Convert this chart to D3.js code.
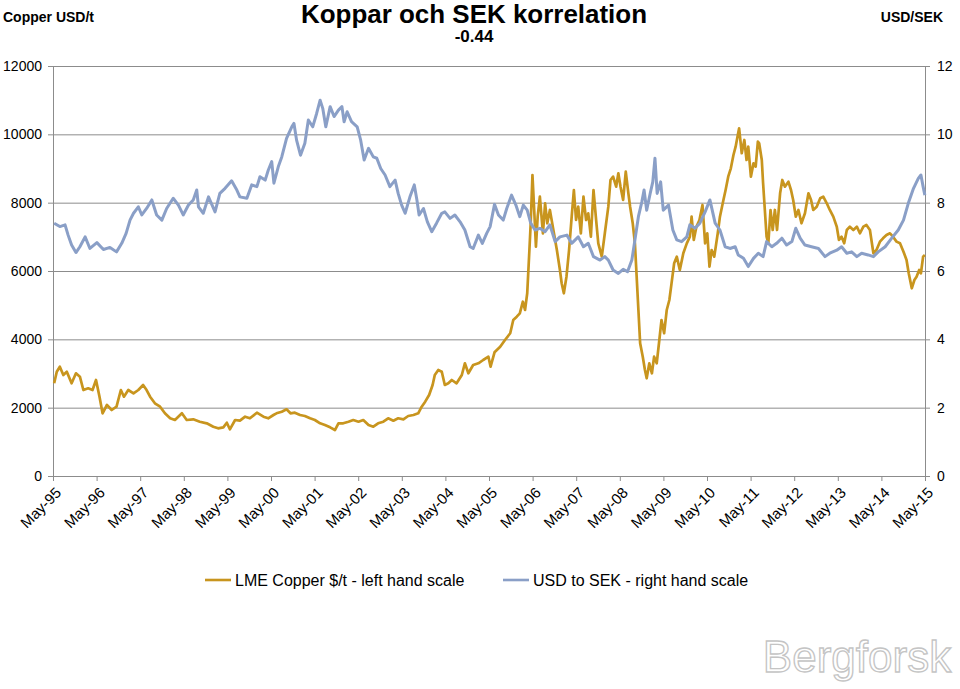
<!DOCTYPE html>
<html>
<head>
<meta charset="utf-8">
<script src="https://cdn.jsdelivr.net/npm/d3@7"></script>
<style>
  html, body { margin: 0; padding: 0; background: #fff; }
  svg { display: block; font-family: "Liberation Sans", Arial, sans-serif; }
</style>
</head>
<body>
<svg id="chart" width="960" height="689"></svg>
<script>
// ---------- DATA (decimal years) ----------
const copperDates = [1995.36,1995.42,1995.49,1995.57,1995.65,1995.76,1995.86,1995.95,1996.03,1996.14,1996.24,1996.32,1996.40,1996.47,1996.57,1996.68,1996.79,1996.89,1996.96,1997.06,1997.18,1997.29,1997.40,1997.48,1997.56,1997.67,1997.79,1997.90,1998.02,1998.13,1998.29,1998.40,1998.55,1998.70,1998.86,1999.01,1999.12,1999.24,1999.32,1999.39,1999.51,1999.62,1999.74,1999.85,2000.01,2000.16,2000.27,2000.39,2000.46,2000.58,2000.69,2000.78,2000.88,2001.00,2001.11,2001.23,2001.34,2001.46,2001.57,2001.69,2001.80,2001.88,2001.99,2002.11,2002.22,2002.34,2002.45,2002.57,2002.68,2002.79,2002.91,2003.02,2003.14,2003.25,2003.37,2003.48,2003.60,2003.71,2003.79,2003.87,2003.96,2004.04,2004.09,2004.17,2004.25,2004.32,2004.40,2004.48,2004.59,2004.71,2004.78,2004.86,2004.97,2005.09,2005.20,2005.32,2005.37,2005.46,2005.59,2005.70,2005.82,2005.89,2005.97,2006.04,2006.11,2006.16,2006.21,2006.26,2006.29,2006.33,2006.37,2006.41,2006.45,2006.50,2006.57,2006.62,2006.67,2006.73,2006.81,2006.89,2006.96,2007.00,2007.05,2007.11,2007.17,2007.23,2007.28,2007.33,2007.38,2007.44,2007.50,2007.56,2007.61,2007.67,2007.73,2007.79,2007.84,2007.92,2007.99,2008.07,2008.12,2008.18,2008.25,2008.30,2008.35,2008.41,2008.47,2008.53,2008.57,2008.63,2008.68,2008.72,2008.76,2008.80,2008.86,2008.91,2008.95,2009.01,2009.07,2009.12,2009.18,2009.24,2009.29,2009.35,2009.41,2009.47,2009.52,2009.58,2009.64,2009.71,2009.79,2009.87,2009.94,2009.98,2010.03,2010.09,2010.16,2010.23,2010.29,2010.34,2010.39,2010.44,2010.50,2010.58,2010.63,2010.71,2010.76,2010.82,2010.88,2010.94,2010.99,2011.04,2011.07,2011.13,2011.19,2011.24,2011.28,2011.34,2011.40,2011.45,2011.50,2011.53,2011.59,2011.62,2011.66,2011.70,2011.74,2011.79,2011.84,2011.89,2011.94,2012.01,2012.06,2012.12,2012.20,2012.26,2012.31,2012.37,2012.43,2012.50,2012.58,2012.66,2012.72,2012.77,2012.85,2012.93,2013.00,2013.08,2013.15,2013.23,2013.31,2013.36,2013.42,2013.48,2013.54,2013.61,2013.69,2013.77,2013.84,2013.92,2013.99,2014.07,2014.15,2014.22,2014.30,2014.37,2014.45,2014.53,2014.60,2014.68,2014.76,2014.84,2014.91,2014.96,2015.03,2015.09,2015.14,2015.20,2015.24,2015.29,2015.33];
const copperPrices = [2713,3053,3199,2956,3053,2713,3006,2907,2517,2566,2517,2810,2321,1835,2078,1932,2028,2517,2321,2517,2420,2517,2664,2517,2321,2128,2028,1835,1689,1639,1835,1639,1659,1589,1542,1443,1396,1425,1560,1367,1639,1619,1736,1689,1853,1736,1689,1785,1835,1882,1952,1835,1853,1785,1756,1689,1639,1542,1493,1425,1346,1542,1542,1589,1639,1589,1639,1493,1443,1542,1589,1689,1619,1689,1659,1756,1785,1835,2028,2175,2371,2664,2956,3103,3053,2664,2713,2810,2713,2956,3299,3006,3249,3299,3395,3492,3199,3620,3785,3981,4177,4566,4663,4762,5102,4859,5348,6615,7397,8810,7786,6712,7590,8175,7104,7982,7397,7786,7200,6615,6030,5640,5348,5834,6615,7590,8371,7493,7882,7104,8175,7493,7689,7004,8371,7493,6810,6420,7104,7882,8664,8761,8468,8860,8468,8079,8907,8274,7882,7397,6810,5834,4859,3884,3492,3103,2860,3299,3006,3492,3299,3981,4566,4177,4859,5151,5640,6226,6420,6030,6518,6810,7004,7590,6908,7297,7493,7932,6810,7104,6127,6615,6420,7104,7590,8079,8371,8761,9006,9396,9639,9981,10177,9446,9835,9249,9639,8761,9152,9053,9786,9737,9249,8567,7786,7004,6810,7786,7200,7786,7200,8274,8664,8468,8615,8371,8079,7590,7786,7397,7689,8274,8079,7786,7882,8128,8175,7982,7786,7590,7297,6908,7004,6810,7200,7297,7200,7297,7104,7297,7346,7200,6518,6615,6859,6957,7054,7104,7004,6859,6810,6566,6323,5933,5494,5737,5834,6030,5933,6420,6469];

const sekDates = [1995.36,1995.49,1995.61,1995.68,1995.76,1995.86,1995.95,1996.07,1996.18,1996.34,1996.49,1996.64,1996.79,1996.91,1997.01,1997.10,1997.18,1997.29,1997.37,1997.48,1997.60,1997.71,1997.83,1997.94,1998.09,1998.21,1998.32,1998.44,1998.55,1998.63,1998.67,1998.78,1998.90,1999.05,1999.16,1999.28,1999.43,1999.55,1999.62,1999.78,1999.89,2000.01,2000.08,2000.20,2000.27,2000.35,2000.40,2000.50,2000.58,2000.69,2000.81,2000.86,2000.92,2001.01,2001.11,2001.19,2001.29,2001.38,2001.46,2001.52,2001.59,2001.69,2001.78,2001.88,2001.96,2002.01,2002.08,2002.18,2002.31,2002.39,2002.47,2002.57,2002.68,2002.76,2002.85,2002.95,2003.06,2003.18,2003.25,2003.33,2003.41,2003.52,2003.62,2003.68,2003.73,2003.83,2003.92,2004.02,2004.13,2004.25,2004.32,2004.44,2004.55,2004.67,2004.78,2004.90,2004.97,2005.09,2005.18,2005.28,2005.36,2005.46,2005.55,2005.66,2005.74,2005.85,2005.95,2006.04,2006.12,2006.21,2006.29,2006.39,2006.50,2006.62,2006.73,2006.85,2006.96,2007.12,2007.23,2007.38,2007.50,2007.61,2007.73,2007.88,2007.99,2008.07,2008.18,2008.30,2008.41,2008.51,2008.61,2008.68,2008.76,2008.84,2008.89,2008.95,2009.03,2009.09,2009.14,2009.19,2009.27,2009.33,2009.45,2009.55,2009.64,2009.75,2009.87,2009.94,2010.06,2010.17,2010.29,2010.40,2010.52,2010.63,2010.75,2010.86,2010.98,2011.05,2011.17,2011.28,2011.40,2011.51,2011.62,2011.70,2011.82,2011.93,2012.05,2012.16,2012.28,2012.37,2012.47,2012.58,2012.73,2012.89,2013.04,2013.15,2013.31,2013.42,2013.54,2013.65,2013.77,2013.88,2014.03,2014.15,2014.26,2014.42,2014.57,2014.72,2014.84,2014.95,2015.07,2015.18,2015.24,2015.29,2015.33];
const sekRates = [7.40,7.30,7.35,7.05,6.76,6.54,6.71,7.00,6.66,6.83,6.63,6.69,6.56,6.81,7.10,7.49,7.69,7.88,7.64,7.83,8.08,7.64,7.49,7.83,8.13,7.93,7.64,7.93,8.08,8.37,7.88,7.69,8.17,7.73,8.27,8.42,8.64,8.37,8.17,8.13,8.52,8.47,8.76,8.66,8.95,9.20,8.57,9.05,9.34,9.88,10.22,10.32,9.83,9.39,9.74,10.42,10.22,10.61,11.00,10.76,10.22,10.81,10.52,10.71,10.81,10.37,10.66,10.37,10.22,9.83,9.25,9.59,9.34,9.30,9.00,8.81,8.47,8.66,8.27,7.93,7.69,8.17,8.52,8.08,7.64,7.83,7.44,7.15,7.40,7.69,7.73,7.54,7.64,7.44,7.20,6.71,6.66,7.05,6.81,7.10,7.30,7.95,7.64,7.49,7.83,8.22,7.93,7.59,7.93,7.78,7.40,7.20,7.25,7.15,7.35,6.86,7.00,7.05,6.81,7.00,6.71,6.81,6.42,6.32,6.42,6.32,6.03,5.93,6.05,5.98,6.32,6.91,7.59,8.03,8.37,7.78,8.27,8.61,9.30,8.27,8.61,7.78,7.93,7.20,6.91,6.86,7.00,7.35,7.25,7.40,7.73,8.08,7.40,7.20,6.71,6.66,6.71,6.47,6.37,6.13,6.37,6.52,6.42,6.86,6.71,6.81,6.96,6.76,6.86,7.25,6.96,6.76,6.71,6.66,6.42,6.52,6.61,6.71,6.52,6.56,6.42,6.52,6.47,6.42,6.56,6.71,6.96,7.20,7.49,7.98,8.42,8.71,8.81,8.47,8.22];

const xTickYears = [1995,1996,1997,1998,1999,2000,2001,2002,2003,2004,2005,2006,2007,2008,2009,2010,2011,2012,2013,2014,2015];
const xTickLabels = ["May-95","May-96","May-97","May-98","May-99","May-00","May-01","May-02","May-03","May-04","May-05","May-06","May-07","May-08","May-09","May-10","May-11","May-12","May-13","May-14","May-15"];
const leftTicks = [0,2000,4000,6000,8000,10000,12000];
const rightTicks = [0,2,4,6,8,10,12];

const titleText = "Koppar och SEK korrelation";
const subtitleText = "-0.44";
const leftUnit = "Copper USD/t";
const rightUnit = "USD/SEK";
const seriesNames = ["LME Copper $/t - left hand scale", "USD to SEK - right hand scale"];

// ---------- LAYOUT ----------
const svg = d3.select("#chart");
const L = 53, R = 925, T = 66, B = 476;
const copperColor = "#C8951E";
const sekColor = "#8A9FC7";
const gridColor = "#8c8c8c";

const x = d3.scaleLinear().domain([1995 + 4/12, 2015 + 4/12]).range([L, R]);
const yL = d3.scaleLinear().domain([0, 12000]).range([B, T]);
const yR = d3.scaleLinear().domain([0, 12]).range([B, T]);

// gridlines
svg.append("g")
  .attr("transform", `translate(${L},0)`)
  .call(d3.axisLeft(yL).tickValues(leftTicks).tickSize(-(R - L)).tickFormat(""))
  .call(g => g.select(".domain").remove())
  .call(g => g.selectAll("line").attr("stroke", gridColor).attr("stroke-width", 1));

// left axis
const gL = svg.append("g")
  .attr("transform", `translate(${L},0)`)
  .call(d3.axisLeft(yL).tickValues(leftTicks).tickFormat(d3.format("d"))
    .tickSize(5).tickSizeOuter(0).tickPadding(6));
gL.select(".domain").attr("stroke", gridColor);
gL.selectAll("line").attr("stroke", gridColor);
gL.selectAll("text").attr("font-size", 14).attr("font-family", "Liberation Sans, Arial").attr("fill", "#000");

// right axis
const gR = svg.append("g")
  .attr("transform", `translate(${R},0)`)
  .call(d3.axisRight(yR).tickValues(rightTicks).tickFormat(d3.format("d"))
    .tickSize(5).tickSizeOuter(0).tickPadding(7));
gR.select(".domain").attr("stroke", gridColor);
gR.selectAll("line").attr("stroke", gridColor);
gR.selectAll("text").attr("font-size", 14).attr("font-family", "Liberation Sans, Arial").attr("fill", "#000");

// bottom axis
const gB = svg.append("g")
  .attr("transform", `translate(0,${B})`)
  .call(d3.axisBottom(x)
    .tickValues(xTickYears.map(yv => yv + 4/12))
    .tickFormat((d, i) => xTickLabels[i])
    .tickSize(5).tickSizeOuter(0));
gB.select(".domain").attr("stroke", gridColor);
gB.selectAll("line").attr("stroke", gridColor);
gB.selectAll("text")
  .attr("font-size", 15).attr("font-family", "Liberation Sans, Arial").attr("fill", "#000")
  .attr("text-anchor", "end")
  .attr("x", 0).attr("y", 0).attr("dy", "0.35em")
  .attr("transform", "translate(5,14) rotate(-45)");

// lines
const copperData = copperDates.map((d, i) => [d, copperPrices[i]]);
const sekData = sekDates.map((d, i) => [d, sekRates[i]]);

svg.append("path")
  .datum(copperData)
  .attr("fill", "none").attr("stroke", copperColor).attr("stroke-width", 2.7)
  .attr("stroke-linejoin", "round")
  .attr("d", d3.line().x(d => x(d[0])).y(d => yL(d[1])));

svg.append("path")
  .datum(sekData)
  .attr("fill", "none").attr("stroke", sekColor).attr("stroke-width", 3)
  .attr("stroke-linejoin", "round")
  .attr("d", d3.line().x(d => x(d[0])).y(d => yR(d[1])));

// titles
svg.append("text").attr("x", 474).attr("y", 23).attr("text-anchor", "middle")
  .attr("font-size", 25).attr("font-weight", "bold")
  .attr("textLength", 346).attr("lengthAdjust", "spacingAndGlyphs").text(titleText);
svg.append("text").attr("x", 474).attr("y", 42).attr("text-anchor", "middle")
  .attr("font-size", 17).attr("font-weight", "bold").text(subtitleText);
svg.append("text").attr("x", 3).attr("y", 22)
  .attr("font-size", 14).attr("font-weight", "bold").text(leftUnit);
svg.append("text").attr("x", 943).attr("y", 22).attr("text-anchor", "end")
  .attr("font-size", 14).attr("font-weight", "bold").text(rightUnit);

// legend
const legend = [
  { name: seriesNames[0], color: copperColor, x0: 205 },
  { name: seriesNames[1], color: sekColor, x0: 503 }
];
const lg = svg.append("g");
legend.forEach(item => {
  lg.append("line").attr("x1", item.x0).attr("x2", item.x0 + 26)
    .attr("y1", 580).attr("y2", 580)
    .attr("stroke", item.color).attr("stroke-width", 2.6);
  lg.append("text").attr("x", item.x0 + 30).attr("y", 586)
    .attr("font-size", 16).text(item.name);
});

// watermark
svg.append("text").attr("x", 857).attr("y", 672).attr("text-anchor", "middle")
  .attr("font-size", 44).attr("font-family", "Liberation Sans, Arial")
  .attr("fill", "#fff").attr("stroke", "#c4c4c4").attr("stroke-width", 1.3)
  .text("Bergforsk");
</script>
</body>
</html>
